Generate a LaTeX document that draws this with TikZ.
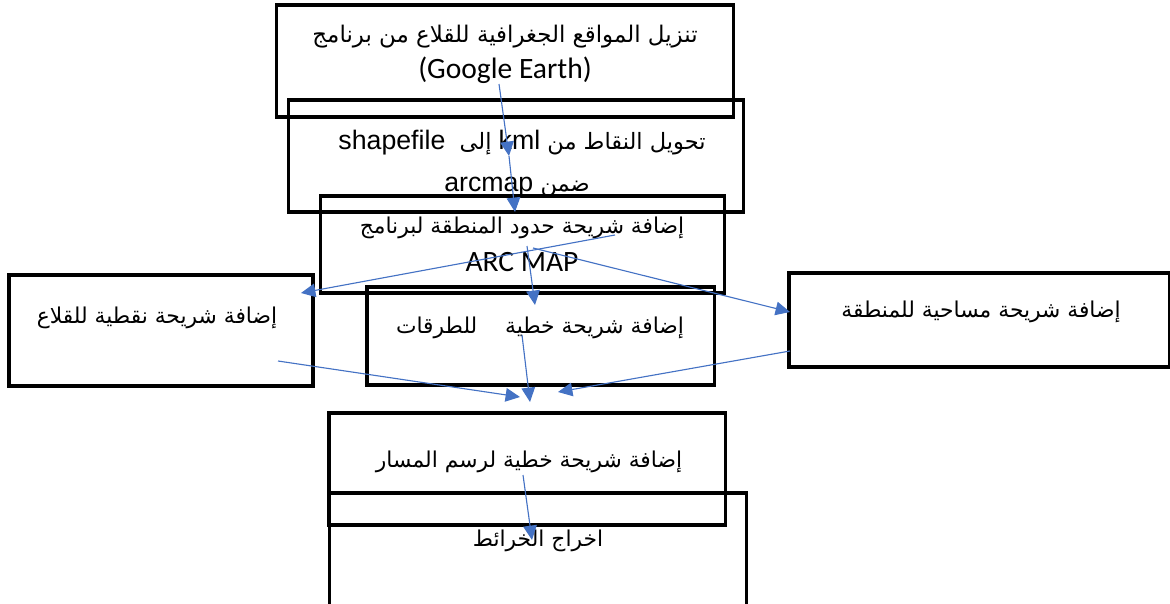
\documentclass[tikz,border=0pt]{standalone}
\usepackage{fontspec}
\usetikzlibrary{arrows.meta}
\TeXXeTstate=1
\newfontfamily\arabicfont[Script=Arabic]{DejaVu Sans}
\newfontfamily\arialfont{Liberation Sans}
\newfontfamily\calfont{Carlito}
\definecolor{flowblue}{HTML}{4472C4}

\begin{document}
\begin{tikzpicture}[x=0.025cm,y=-0.025cm,
        box/.style={draw=black,line width=2.2pt,rectangle,inner sep=0pt},
        txt/.style={inner sep=0pt,font=\arabicfont\fontsize{15.5}{18}\selectfont},
        lat/.style={inner sep=0pt,font=\calfont\fontsize{21}{24}\selectfont},
        flow/.style={flowblue,line width=0.8pt,-{Triangle[length=0.36cm,width=0.34cm]}}]
        \useasboundingbox (0,0) rectangle (1170,604);
        \clip (0,0) rectangle (1170,604);
        % boxes
        \node[box,minimum width=11.4cm,minimum height=2.8cm] (load) at (505,61) {};
        \node[box,minimum width=11.35cm,minimum height=2.8cm] (convert) at (516,156) {};
        \node[box,minimum width=10.075cm,minimum height=2.425cm] (border) at (522.5,244.5) {};
        \node[box,minimum width=8.675cm,minimum height=2.45cm] (roads) at (540.5,336) {};
        \node[box,minimum width=7.6cm,minimum height=2.775cm] (castles) at (161,330.5) {};
        \node[box,minimum width=9.5cm,minimum height=2.35cm] (area) at (979,320) {};
        \node[box,minimum width=9.9cm,minimum height=2.8cm] (path) at (527,469) {};
        \node[box,minimum width=10.4cm,minimum height=3.05cm] (maps) at (538,554) {};
        % texts
        \node[txt,font=\arabicfont\fontsize{16.3}{18}\selectfont] (loadA) at (505,37) {\beginR تنزيل المواقع الجغرافية للقلاع من برنامج\endR};
        \node[lat] (loadB) at (505,70) {(Google Earth)};
        \node[txt,font=\arabicfont\fontsize{16}{18}\selectfont] (convertA) at (522,143) {\beginR تحويل النقاط من \beginL{\arialfont\fontsize{19}{20}\selectfont kml}\endL{} إلى \ \beginL{\arialfont\fontsize{19}{20}\selectfont shapefile}\endL\endR};
        \node[txt,font=\arabicfont\fontsize{16}{18}\selectfont] (convertB) at (517,187) {\beginR ضمن \beginL{\arialfont\fontsize{19}{20}\selectfont arcmap}\endL\endR};
        \node[txt] (borderA) at (522,228) {\beginR إضافة شريحة حدود المنطقة لبرنامج\endR};
        \node[lat] (borderB) at (522,262) {ARC MAP};
        \node[txt] (roadsA) at (540,328) {\beginR إضافة شريحة خطية \ \ \ للطرقات\endR};
        \node[txt] (castlesA) at (157,318) {\beginR إضافة شريحة نقطية للقلاع\endR};
        \node[txt] (areaA) at (981,312) {\beginR إضافة شريحة مساحية للمنطقة\endR};
        \node[txt] (pathA) at (529,462) {\beginR إضافة شريحة خطية لرسم المسار\endR};
        \node[txt] (mapsA) at (538,541) {\beginR اخراج الخرائط\endR};
        % connector ends
        \coordinate (c1) at (499,84);
        \coordinate (c2) at (509,156);
        \coordinate (c3) at (515,212);
        \coordinate (c4) at (615,235);
        \coordinate (c5) at (301,293);
        \coordinate (c6) at (533,248);
        \coordinate (c7) at (790,312);
        \coordinate (c8) at (527,246);
        \coordinate (c9) at (535,305);
        \coordinate (c10) at (522,335);
        \coordinate (c11) at (530,402);
        \coordinate (c12) at (278,361);
        \coordinate (c13) at (520,397);
        \coordinate (c14) at (790,351);
        \coordinate (c15) at (558,392);
        \coordinate (c16) at (523,475);
        \coordinate (c17) at (532,540);
        % arrows
        \draw [flow] (c1) -- (c2);
        \draw [flow] (c2) -- (c3);
        \draw [flow] (c4) -- (c5);
        \draw [flow] (c6) -- (c7);
        \draw [flow] (c8) -- (c9);
        \draw [flow] (c10) -- (c11);
        \draw [flow] (c12) -- (c13);
        \draw [flow] (c14) -- (c15);
        \draw [flow] (c16) -- (c17);
\end{tikzpicture}
\end{document}
